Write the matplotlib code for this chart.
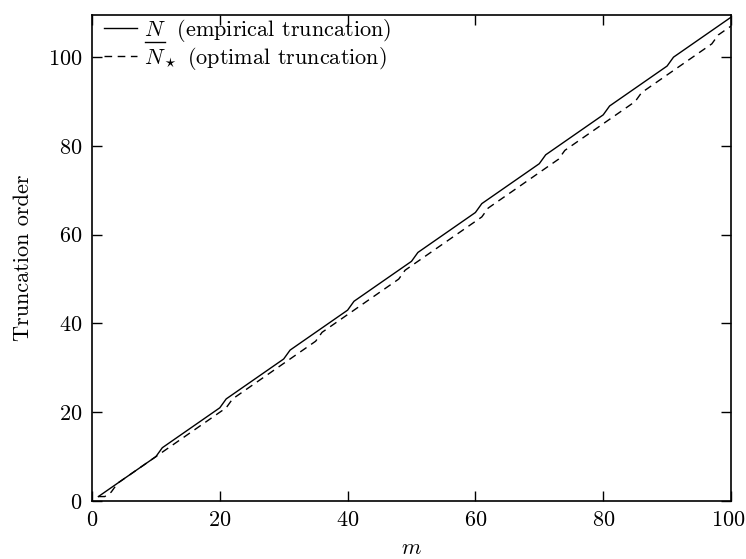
import numpy as np
import matplotlib
matplotlib.use("Agg")
import matplotlib.pyplot as plt
from matplotlib.lines import Line2D
from matplotlib.transforms import ScaledTranslation

# Data
m = list(range(1, 101))
# empirical truncation: increments of +2 at these m (otherwise +1)
emp_jumps = [11, 21, 31, 41, 51, 61, 71, 81, 91]
# optimal truncation
opt_start = [1, 1, 2]           # values at m = 1, 2, 3
opt_jumps = [4, 22, 36, 49, 62, 74, 86, 98]

N_emp = [1]
for k in m[1:]:
    N_emp.append(N_emp[-1] + (2 if k in emp_jumps else 1))
N_opt = list(opt_start)
for k in m[3:]:
    N_opt.append(N_opt[-1] + (2 if k in opt_jumps else 1))

xticks = [0, 20, 40, 60, 80, 100]
yticks = [0, 20, 40, 60, 80, 100]

plt.rcParams['font.family'] = 'serif'
plt.rcParams['font.serif'] = ['cmr10']
plt.rcParams['mathtext.fontset'] = 'cm'
plt.rcParams['axes.formatter.use_mathtext'] = True

fig = plt.figure(figsize=(7.46, 5.59), dpi=100)
W, H = 746.0, 559.0
L, R, T, B = 92, 731, 15, 501
ax = fig.add_axes([L / W, 1 - B / H, (R - L) / W, (B - T) / H])

ax.plot(m, N_emp, color='black', lw=1.0, label=r'$N$  (empirical truncation)')
ax.plot(m, N_opt, color='black', lw=1.0, dashes=(5.5, 4),
        label=r'$N_\star$ (optimal truncation)')

ax.set_xlim(0, 100)
ax.set_ylim(0, 109.5)
ax.set_xticks(xticks)
ax.set_yticks(yticks)
ax.tick_params(direction='in', top=True, right=True, length=7, width=1,
               labelsize=16, pad=7)
for s in ax.spines.values():
    s.set_linewidth(1.2)
ax.set_xlabel(r'$m$', fontsize=16, labelpad=6)
ax.set_ylabel('Truncation order', fontsize=16, labelpad=11)

# keep the last x tick label inside the figure
lab = ax.get_xticklabels()[-1]
lab.set_transform(lab.get_transform() + ScaledTranslation(-3 / 100, 0, fig.dpi_scale_trans))

leg = ax.legend(loc='upper left', bbox_to_anchor=(0.018, 0.996),
                frameon=False, fontsize=16, handlelength=1.5,
                handletextpad=0.3, labelspacing=0.05, borderaxespad=0.0,
                borderpad=0.0)

# underline the N in the first legend entry
fig.canvas.draw()
renderer = fig.canvas.get_renderer()
t0 = leg.get_texts()[0]
bb = t0.get_window_extent(renderer)
tmp = fig.text(0, 0, r'$N$', fontsize=16)
wN = tmp.get_window_extent(renderer).width
tmp.remove()
yline = bb.y0 + 2.0
fig.add_artist(Line2D([(bb.x0 + 1) / W, (bb.x0 + wN) / W], [yline / H, yline / H],
                      color='black', lw=1.0, transform=fig.transFigure))

fig.savefig('out.png', dpi=100)
